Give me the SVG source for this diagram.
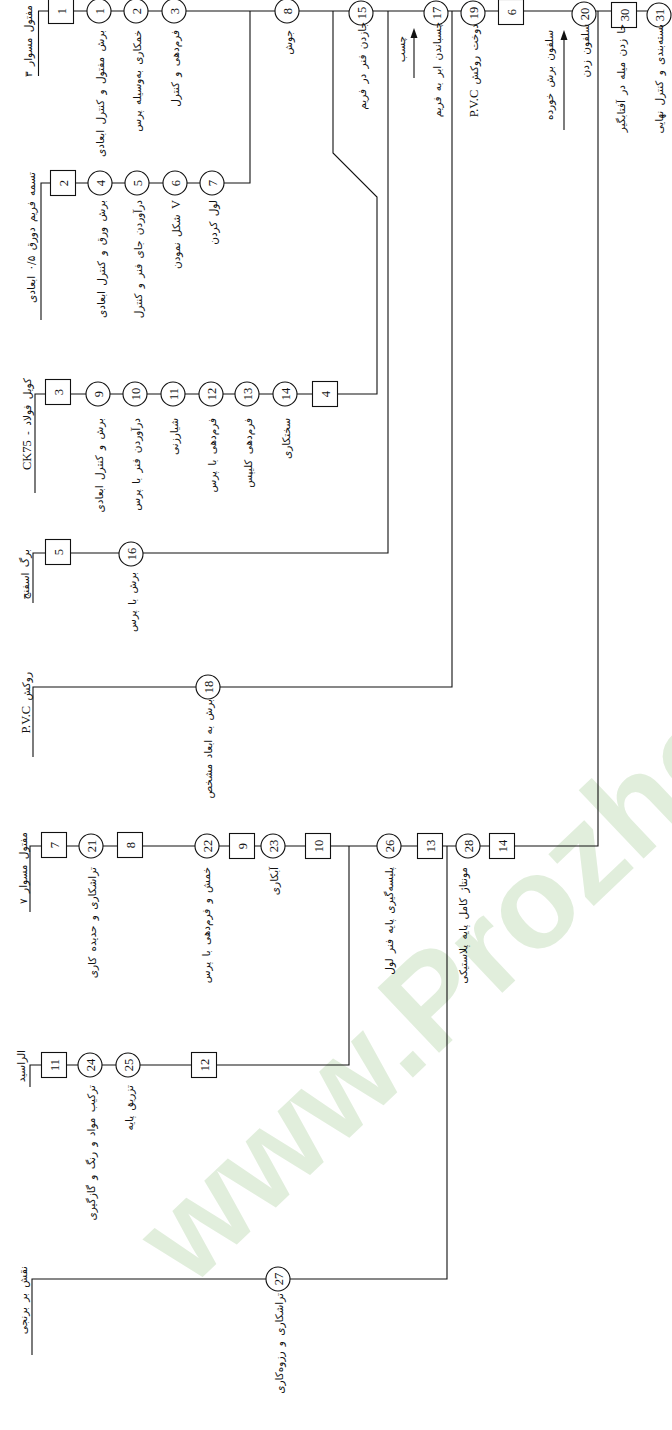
<svg xmlns="http://www.w3.org/2000/svg" width="672" height="1430" viewBox="0 0 672 1430">
<style>
.ln{stroke:#111;stroke-width:1.1;fill:none}
.sym{fill:#fff;stroke:#111;stroke-width:1.1}
.num{font-family:"Liberation Serif",serif;font-size:12.5px;text-anchor:middle;fill:#111}
.lbl{font-family:"DejaVu Sans",sans-serif;font-size:10.5px;word-spacing:2px;direction:rtl;text-anchor:start;fill:#111}
.hdr{font-family:"DejaVu Sans",sans-serif;font-size:10.5px;word-spacing:2px;direction:rtl;text-anchor:start;fill:#111}
.lat{font-family:"Liberation Serif",serif;font-size:12.5px}
.wm{font-family:"Liberation Sans",sans-serif;font-size:130px;font-weight:bold;fill:#e1eedc}
</style>
<defs>
<circle id="c" r="12" class="sym"/>
<rect id="b" x="-12.5" y="-12.5" width="25" height="25" class="sym"/>
</defs>
<text class="wm" transform="translate(190,1289) rotate(-43.5)">www.Prozheh</text>
<g id="connectors">
<path class="ln" d="M38.5 76 V11 H659"/>
<path class="ln" d="M41 320 V183 H250 V11"/>
<path class="ln" d="M35 493 V394 H377 V197 L333 153 V11"/>
<path class="ln" d="M33 603 V553 H388 V11"/>
<path class="ln" d="M33 757 V687 H452 V11"/>
<path class="ln" d="M30 912 V846 H598 V11"/>
<path class="ln" d="M30 1087 V1065 H349 V846"/>
<path class="ln" d="M32 1355 V1279 H447 V846"/>
<path class="ln" d="M414 78 V36"/>
<polygon points="414,28 410.5,38 417.5,38" fill="#111"/>
<path class="ln" d="M564 130 V40"/>
<polygon points="564,30 560.5,40 567.5,40" fill="#111"/>
</g>
<g id="headers">
<text class="hdr" transform="translate(32,5) rotate(-90)">مفتول مسوار ۳</text>
<text class="hdr" transform="translate(35,172) rotate(-90)">تسمه فریم دورق ۰/۵ ابعادی</text>
<text class="hdr" transform="translate(31,378) rotate(-90)">کویل فولاد - <tspan class="lat">CK75</tspan></text>
<text class="hdr" transform="translate(29,549) rotate(-90)">برگ اسفنج</text>
<text class="hdr" transform="translate(30,672) rotate(-90)">روکش <tspan class="lat">P.V.C</tspan></text>
<text class="hdr" transform="translate(27,832) rotate(-90)">مفتول مسوار ۷</text>
<text class="hdr" transform="translate(25,1050) rotate(-90)">الراسید</text>
<text class="hdr" transform="translate(27,1266) rotate(-90)">نقش بر برنجی</text>
</g>
<g id="arrows-labels">
<text class="lbl" transform="translate(405,36) rotate(-90)">چسب</text>
<text class="lbl" transform="translate(553,30) rotate(-90)">سلفون برش خورده</text>
</g>
<g id="n-b1"><use href="#b" x="61" y="11"/><text class="num" transform="translate(61,11) rotate(-90)" y="4.5">1</text></g>
<g id="n-o1"><use href="#c" x="99" y="11"/><text class="num" transform="translate(99,11) rotate(-90)" y="4.5">1</text><text class="lbl" transform="translate(104,30) rotate(-90)">برش مفتول و کنترل ابعادی</text></g>
<g id="n-o2"><use href="#c" x="136" y="11"/><text class="num" transform="translate(136,11) rotate(-90)" y="4.5">2</text><text class="lbl" transform="translate(141,30) rotate(-90)">خمکاری به‌وسیله پرس</text></g>
<g id="n-o3"><use href="#c" x="174" y="11"/><text class="num" transform="translate(174,11) rotate(-90)" y="4.5">3</text><text class="lbl" transform="translate(179,30) rotate(-90)">فرم‌دهی و کنترل</text></g>
<g id="n-o8"><use href="#c" x="287" y="11"/><text class="num" transform="translate(287,11) rotate(-90)" y="4.5">8</text><text class="lbl" transform="translate(292,30) rotate(-90)">جوش</text></g>
<g id="n-o15"><use href="#c" x="361" y="13"/><text class="num" transform="translate(361,13) rotate(-90)" y="4.5">15</text><text class="lbl" transform="translate(366,22) rotate(-90)">جازدن فنر در فریم</text></g>
<g id="n-o17"><use href="#c" x="436" y="13"/><text class="num" transform="translate(436,13) rotate(-90)" y="4.5">17</text><text class="lbl" transform="translate(441,22) rotate(-90)">چسباندن ابر به فریم</text></g>
<g id="n-o19"><use href="#c" x="473" y="13"/><text class="num" transform="translate(473,13) rotate(-90)" y="4.5">19</text><text class="lbl" transform="translate(478,24) rotate(-90)">دوخت روکش <tspan class="lat">P.V.C</tspan></text></g>
<g id="n-b6"><use href="#b" x="511" y="12"/><text class="num" transform="translate(511,12) rotate(-90)" y="4.5">6</text></g>
<g id="n-o20"><use href="#c" x="584" y="14"/><text class="num" transform="translate(584,14) rotate(-90)" y="4.5">20</text><text class="lbl" transform="translate(589,24) rotate(-90)">سلفون زدن</text></g>
<g id="n-b30"><use href="#b" x="624" y="15"/><text class="num" transform="translate(624,15) rotate(-90)" y="4.5">30</text><text class="lbl" transform="translate(625,24) rotate(-90)">جا زدن میله در آفتابگیر</text></g>
<g id="n-o31"><use href="#c" x="659" y="15"/><text class="num" transform="translate(659,15) rotate(-90)" y="4.5">31</text><text class="lbl" transform="translate(663,24) rotate(-90)">بسته‌بندی و کنترل نهایی</text></g>
<g id="n-b2"><use href="#b" x="63" y="183"/><text class="num" transform="translate(63,183) rotate(-90)" y="4.5">2</text></g>
<g id="n-o4"><use href="#c" x="100" y="183"/><text class="num" transform="translate(100,183) rotate(-90)" y="4.5">4</text><text class="lbl" transform="translate(105,200) rotate(-90)">برش ورق و کنترل ابعادی</text></g>
<g id="n-o5"><use href="#c" x="137" y="183"/><text class="num" transform="translate(137,183) rotate(-90)" y="4.5">5</text><text class="lbl" transform="translate(142,200) rotate(-90)">درآوردن جای فنر و کنترل</text></g>
<g id="n-o6"><use href="#c" x="175" y="183"/><text class="num" transform="translate(175,183) rotate(-90)" y="4.5">6</text><text class="lbl" transform="translate(180,200) rotate(-90)"><tspan class="lat">V</tspan> شکل نمودن</text></g>
<g id="n-o7"><use href="#c" x="212" y="183"/><text class="num" transform="translate(212,183) rotate(-90)" y="4.5">7</text><text class="lbl" transform="translate(217,200) rotate(-90)">لول کردن</text></g>
<g id="n-b3"><use href="#b" x="58" y="392"/><text class="num" transform="translate(58,392) rotate(-90)" y="4.5">3</text></g>
<g id="n-o9"><use href="#c" x="98" y="394"/><text class="num" transform="translate(98,394) rotate(-90)" y="4.5">9</text><text class="lbl" transform="translate(103,418) rotate(-90)">برش و کنترل ابعادی</text></g>
<g id="n-o10"><use href="#c" x="135" y="394"/><text class="num" transform="translate(135,394) rotate(-90)" y="4.5">10</text><text class="lbl" transform="translate(140,418) rotate(-90)">درآوردن فنر با پرس</text></g>
<g id="n-o11"><use href="#c" x="173" y="394"/><text class="num" transform="translate(173,394) rotate(-90)" y="4.5">11</text><text class="lbl" transform="translate(178,418) rotate(-90)">شیارزنی</text></g>
<g id="n-o12"><use href="#c" x="211" y="394"/><text class="num" transform="translate(211,394) rotate(-90)" y="4.5">12</text><text class="lbl" transform="translate(216,418) rotate(-90)">فرم‌دهی با پرس</text></g>
<g id="n-o13"><use href="#c" x="247" y="394"/><text class="num" transform="translate(247,394) rotate(-90)" y="4.5">13</text><text class="lbl" transform="translate(252,418) rotate(-90)">فرم‌دهی کلیپس</text></g>
<g id="n-o14"><use href="#c" x="285" y="394"/><text class="num" transform="translate(285,394) rotate(-90)" y="4.5">14</text><text class="lbl" transform="translate(290,418) rotate(-90)">سختکاری</text></g>
<g id="n-b4"><use href="#b" x="325" y="394"/><text class="num" transform="translate(325,394) rotate(-90)" y="4.5">4</text></g>
<g id="n-b5"><use href="#b" x="58" y="552"/><text class="num" transform="translate(58,552) rotate(-90)" y="4.5">5</text></g>
<g id="n-o16"><use href="#c" x="131" y="554"/><text class="num" transform="translate(131,554) rotate(-90)" y="4.5">16</text><text class="lbl" transform="translate(136,572) rotate(-90)">برش با پرس</text></g>
<g id="n-o18"><use href="#c" x="208" y="687"/><text class="num" transform="translate(208,687) rotate(-90)" y="4.5">18</text><text class="lbl" transform="translate(212,699) rotate(-90)">برش به ابعاد مشخص</text></g>
<g id="n-b7"><use href="#b" x="54" y="845"/><text class="num" transform="translate(54,845) rotate(-90)" y="4.5">7</text></g>
<g id="n-o21"><use href="#c" x="91" y="846"/><text class="num" transform="translate(91,846) rotate(-90)" y="4.5">21</text><text class="lbl" transform="translate(96,867) rotate(-90)">تراشکاری و حدیده کاری</text></g>
<g id="n-b8"><use href="#b" x="130" y="845"/><text class="num" transform="translate(130,845) rotate(-90)" y="4.5">8</text></g>
<g id="n-o22"><use href="#c" x="207" y="846"/><text class="num" transform="translate(207,846) rotate(-90)" y="4.5">22</text><text class="lbl" transform="translate(210,867) rotate(-90)">خمش و فرم‌دهی با پرس</text></g>
<g id="n-b9"><use href="#b" x="242" y="846"/><text class="num" transform="translate(242,846) rotate(-90)" y="4.5">9</text></g>
<g id="n-o23"><use href="#c" x="273" y="846"/><text class="num" transform="translate(273,846) rotate(-90)" y="4.5">23</text><text class="lbl" transform="translate(278,867) rotate(-90)">آبکاری</text></g>
<g id="n-b10"><use href="#b" x="318" y="846"/><text class="num" transform="translate(318,846) rotate(-90)" y="4.5">10</text></g>
<g id="n-o26"><use href="#c" x="389" y="846"/><text class="num" transform="translate(389,846) rotate(-90)" y="4.5">26</text><text class="lbl" transform="translate(393,867) rotate(-90)">پلیسه‌گیری پایه فنر لول</text></g>
<g id="n-b13"><use href="#b" x="430" y="846"/><text class="num" transform="translate(430,846) rotate(-90)" y="4.5">13</text></g>
<g id="n-o28"><use href="#c" x="468" y="846"/><text class="num" transform="translate(468,846) rotate(-90)" y="4.5">28</text><text class="lbl" transform="translate(467,867) rotate(-90)">مونتاژ کامل پایه پلاستیکی</text></g>
<g id="n-b14"><use href="#b" x="502" y="846"/><text class="num" transform="translate(502,846) rotate(-90)" y="4.5">14</text></g>
<g id="n-b11"><use href="#b" x="54" y="1065"/><text class="num" transform="translate(54,1065) rotate(-90)" y="4.5">11</text></g>
<g id="n-o24"><use href="#c" x="90" y="1065"/><text class="num" transform="translate(90,1065) rotate(-90)" y="4.5">24</text><text class="lbl" transform="translate(95,1085) rotate(-90)">ترکیب مواد و رنگ و گازگیری</text></g>
<g id="n-o25"><use href="#c" x="128" y="1065"/><text class="num" transform="translate(128,1065) rotate(-90)" y="4.5">25</text><text class="lbl" transform="translate(133,1085) rotate(-90)">تزریق پایه</text></g>
<g id="n-b12"><use href="#b" x="204" y="1065"/><text class="num" transform="translate(204,1065) rotate(-90)" y="4.5">12</text></g>
<g id="n-o27"><use href="#c" x="278" y="1279"/><text class="num" transform="translate(278,1279) rotate(-90)" y="4.5">27</text><text class="lbl" transform="translate(283,1293) rotate(-90)">تراشکاری و رزوه‌کاری</text></g>
</svg>
